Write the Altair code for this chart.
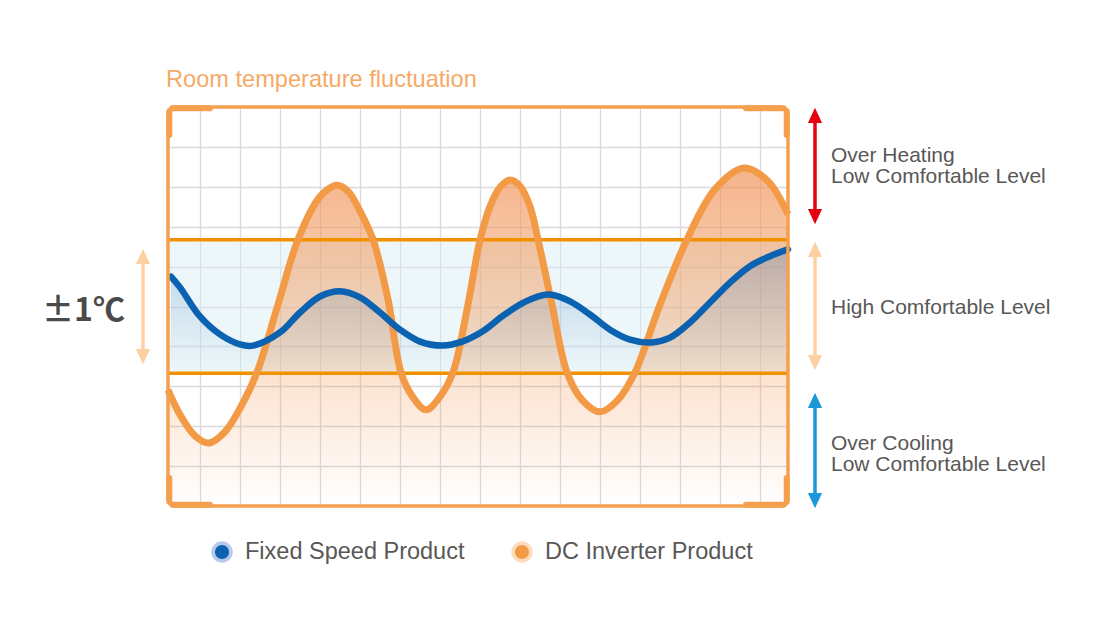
import altair as alt
import pandas as pd

# ---------------- data ----------------
# time axis: 0..620 (frame width), temperature axis: 0..10 (frame height)
time_dc = [0, 12, 27, 41, 57, 74, 89, 110, 130, 150, 160, 169, 180, 192, 205, 220, 233,
           244, 258, 272, 285, 299, 312, 322, 332, 342, 352, 362, 370, 384, 399, 414,
           432, 450, 467, 492, 519, 547, 576, 600, 620]
temp_dc = [2.91, 2.29, 1.76, 1.58, 1.86, 2.54, 3.35, 5.05, 6.68, 7.69, 7.94, 8.04, 7.89,
           7.39, 6.68, 5.18, 3.35, 2.76, 2.41, 2.74, 3.35, 4.92, 6.66, 7.51, 7.99, 8.17,
           8.02, 7.51, 6.68, 5.05, 3.35, 2.66, 2.36, 2.66, 3.35, 5.05, 6.68, 7.94, 8.47,
           8.14, 7.31]

time_fixed = [3, 12, 32, 52, 72, 85, 112, 132, 152, 172, 192, 212, 232, 252, 275, 294,
              316, 334, 354, 374, 382, 402, 422, 442, 462, 484, 502, 522, 542, 562, 582,
              602, 620]
temp_fixed = [5.75, 5.48, 4.75, 4.30, 4.05, 4.02, 4.35, 4.85, 5.25, 5.38, 5.23, 4.85, 4.42,
              4.12, 4.02, 4.12, 4.40, 4.75, 5.08, 5.28, 5.30, 5.13, 4.80, 4.42, 4.17, 4.10,
              4.22, 4.60, 5.10, 5.60, 6.01, 6.26, 6.43]

band_limits = [3.33, 6.67]          # the +-1 degC comfortable band
grid_x = [31.5, 71.5, 111.5, 151.5, 191.5, 231.5, 271.5, 311.5, 351.5, 391.5,
          431.5, 471.5, 511.5, 551.5, 591.5]
grid_y = [1, 2, 3, 4, 5, 6, 7, 8, 9]

chart_title = "Room temperature fluctuation"
band_label = "±1℃"
heat_labels = ["Over Heating", "Low Comfortable Level"]
comfort_label = "High Comfortable Level"
cool_labels = ["Over Cooling", "Low Comfortable Level"]
legend_labels = ["Fixed Speed Product", "DC Inverter Product"]

# ---------------- styling ----------------
W, H = 620, 399
ORANGE = "#f39a47"
BAND_LINE = "#f29100"
FRAME = "#f5a04f"
BLUE = "#0a62b0"
TEXT = "#595757"
FONT = "Liberation Sans"
INTERP = "catmull-rom"

dc = pd.DataFrame({"t": time_dc, "temp": temp_dc})
fixed = pd.DataFrame({"t": time_fixed, "temp": temp_fixed})
one = pd.DataFrame({"_": [0]})

xs = alt.Scale(domain=[0, 620], nice=False, zero=False)
ys = alt.Scale(domain=[0, 10], nice=False, zero=False)
x_axis = alt.Axis(values=grid_x, grid=True, labels=False, ticks=False, domain=False, title=None)
y_axis = alt.Axis(values=grid_y, grid=True, labels=False, ticks=False, domain=False, title=None)


def X(f):
    return alt.X(f, scale=xs, axis=x_axis)


def Y(f):
    return alt.Y(f, scale=ys, axis=y_axis)


layers = []

# comfortable band fill
band_df = pd.DataFrame({"lo": [band_limits[0]], "hi": [band_limits[1]]})
layers.append(
    alt.Chart(band_df).mark_rect(color="#d6eef2", opacity=0.45).encode(
        x=alt.value(0), x2=alt.value(W), y=Y("hi:Q"), y2="lo:Q"
    )
)

# orange area with gradient
orange_grad = alt.Gradient(
    gradient="linear",
    stops=[
        alt.GradientStop(color="rgba(240,150,95,0.72)", offset=0),
        alt.GradientStop(color="rgba(242,150,85,0.42)", offset=0.4),
        alt.GradientStop(color="rgba(242,150,80,0.18)", offset=0.75),
        alt.GradientStop(color="rgba(242,150,80,0.0)", offset=1),
    ],
    x1=0, x2=0, y1=0, y2=1,
)
layers.append(
    alt.Chart(dc).mark_area(interpolate=INTERP, color=orange_grad).encode(
        x=X("t:Q"), y=Y("temp:Q")
    )
)

# blue area with gradient down to the band bottom
blue_grad = alt.Gradient(
    gradient="linear",
    stops=[
        alt.GradientStop(color="rgba(40,110,185,0.26)", offset=0),
        alt.GradientStop(color="rgba(40,110,185,0.0)", offset=1),
    ],
    x1=0, x2=0, y1=0, y2=1,
)
layers.append(
    alt.Chart(fixed).mark_area(interpolate=INTERP, color=blue_grad).encode(
        x=X("t:Q"), y=Y("temp:Q"), y2=alt.datum(band_limits[0])
    )
)

# band limit lines
layers.append(
    alt.Chart(pd.DataFrame({"lim": band_limits})).mark_rule(color=BAND_LINE, strokeWidth=3.5).encode(
        y=Y("lim:Q"), x=alt.value(0), x2=alt.value(W)
    )
)

# curves
layers.append(
    alt.Chart(dc).mark_line(interpolate=INTERP, color=ORANGE, strokeWidth=7).encode(
        x=X("t:Q"), y=Y("temp:Q")
    )
)
layers.append(
    alt.Chart(fixed).mark_line(interpolate=INTERP, color=BLUE, strokeWidth=6.5, strokeCap="round").encode(
        x=X("t:Q"), y=Y("temp:Q")
    )
)

# frame
layers.append(
    alt.Chart(one).mark_rect(fill="transparent", stroke=FRAME, strokeWidth=3.5, cornerRadius=7).encode(
        x=alt.value(0), x2=alt.value(W), y=alt.value(0), y2=alt.value(H)
    )
)


def seg(x1, x2, y1, y2, color, width, cap="butt"):
    return alt.Chart(one).mark_rule(color=color, strokeWidth=width, strokeCap=cap).encode(
        x=alt.value(x1), x2=alt.value(x2), y=alt.value(y1), y2=alt.value(y2)
    )


# thicker frame corners
B = 6
for (cx, cy, dx, dy) in [(0, 0, 1, 1), (W, 0, -1, 1), (0, H, 1, -1), (W, H, -1, -1)]:
    ix = cx + dx * 1.3
    iy = cy + dy * 1.3
    layers.append(seg(ix + dx * 3, cx + dx * 42, iy, iy, FRAME, B, "round"))
    layers.append(seg(ix, ix, iy + dy * 3, cy + dy * 28, FRAME, B, "round"))

# arrows
UP = "M0,-1.15L1,1L-1,1Z"
DOWN = "M0,1.15L1,-1L-1,-1Z"


def arrow(x, y_top, y_bot, color):
    out = [seg(x, x, y_top, y_bot, color, 3.5)]
    out.append(alt.Chart(one).mark_point(shape=UP, size=200, filled=True, opacity=1, color=color).encode(
        x=alt.value(x), y=alt.value(y_top)))
    out.append(alt.Chart(one).mark_point(shape=DOWN, size=200, filled=True, opacity=1, color=color).encode(
        x=alt.value(x), y=alt.value(y_bot)))
    return out


layers += arrow(647, 9, 109, "#e60012")
layers += arrow(647, 143, 255, "#fcd0a2")
layers += arrow(647, 294, 393, "#1a98d8")
layers += arrow(-25, 150, 249, "#fcd0a2")


def label(txt, x, y, size=21, color=TEXT, weight="normal", font=FONT):
    return alt.Chart(one).mark_text(
        align="left", baseline="alphabetic", font=font, fontSize=size, color=color, fontWeight=weight
    ).encode(x=alt.value(x), y=alt.value(y), text=alt.value(txt))


layers.append(label(chart_title, -2, -20, size=23.6, color="#f6a966"))
layers.append(label(heat_labels[0], 663, 54.5))
layers.append(label(heat_labels[1], 663, 76))
layers.append(label(comfort_label, 663, 207))
layers.append(label(cool_labels[0], 663, 342.5))
layers.append(label(cool_labels[1], 663, 364))
layers.append(label(band_label, -126, 214, size=32, color="#4a4a4a", weight="bold", font="Noto Sans CJK SC"))

# legend
for (lx, fill, halo, txt) in [(54, BLUE, "#b9c8ec", legend_labels[0]), (354, "#f39a47", "#fcdcbc", legend_labels[1])]:
    layers.append(alt.Chart(one).mark_point(shape="circle", size=460, filled=True, opacity=1, color=halo).encode(
        x=alt.value(lx), y=alt.value(445)))
    layers.append(alt.Chart(one).mark_point(shape="circle", size=200, filled=True, opacity=1, color=fill).encode(
        x=alt.value(lx), y=alt.value(445)))
    layers.append(label(txt, lx + 23, 452, size=23.5))

chart = alt.layer(*layers).properties(
    width=W,
    height=H,
    padding={"left": 160, "top": 99, "right": 290, "bottom": 100},
    autosize=alt.AutoSizeParams(type="none"),
).configure_view(strokeWidth=0).configure_axis(gridColor="#dcd8de", gridWidth=1.3)

chart.save("out.html", embed_options={"renderer": "svg", "actions": False})
